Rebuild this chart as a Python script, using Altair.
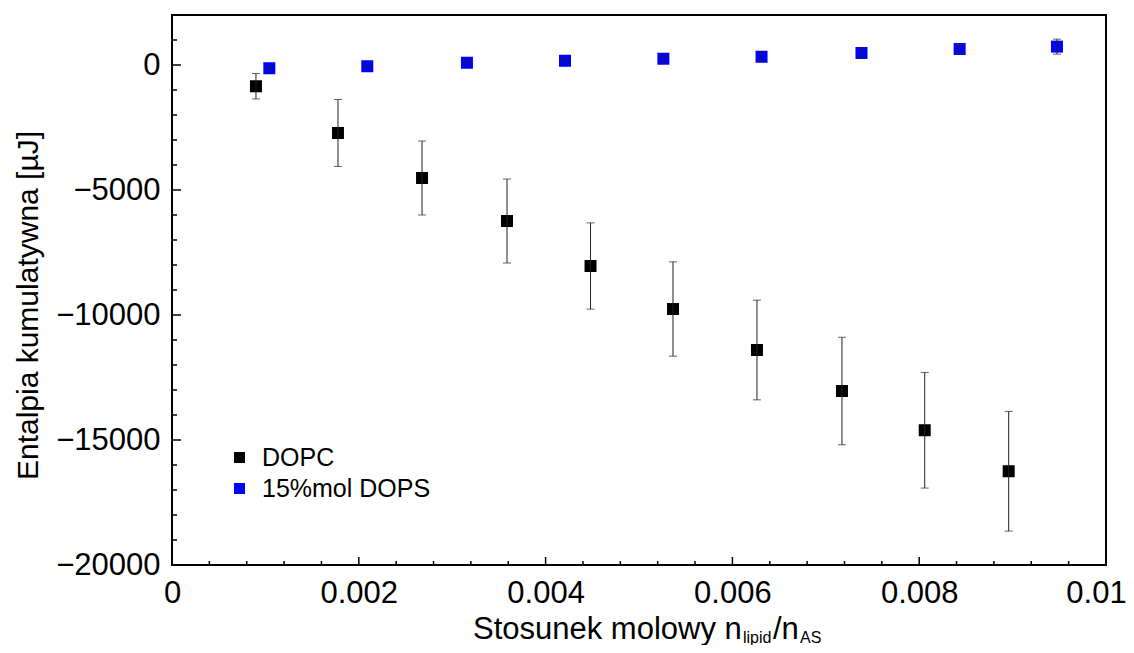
import altair as alt
import pandas as pd

# ---- data ----
series_names = ["DOPC", "15%mol DOPS"]
series_colors = ["#000000", "#0000ff"]

dopc_x = [0.000899, 0.001777, 0.002677, 0.003587, 0.004481, 0.005364, 0.006263, 0.007173, 0.008059, 0.008958]
dopc_y = [-850, -2720, -4520, -6240, -8040, -9760, -11400, -13040, -14610, -16250]
dopc_err = [510, 1340, 1480, 1680, 1725, 1886, 1994, 2150, 2313, 2393]

dops_x = [0.001042, 0.002091, 0.003158, 0.004208, 0.005261, 0.006312, 0.007382, 0.008433, 0.009475]
dops_y = [-130, -50, 90, 170, 250, 330, 480, 640, 735]
dops_err = [80, 20, 50, 55, 95, 150, 195, 180, 300]

x_major = [0, 0.002, 0.004, 0.006, 0.008, 0.01]
x_minor = [0.0004, 0.0008, 0.0012, 0.0016, 0.0024, 0.0028, 0.0032, 0.0036,
           0.0044, 0.0048, 0.0052, 0.0056, 0.0064, 0.0068, 0.0072, 0.0076,
           0.0084, 0.0088, 0.0092, 0.0096]
y_major = [0, -5000, -10000, -15000, -20000]
y_minor = [1000, -1000, -2000, -3000, -4000, -6000, -7000, -8000, -9000,
           -11000, -12000, -13000, -14000, -16000, -17000, -18000, -19000]

x_title_main = "Stosunek molowy n"
x_title_sub1 = "lipid"
x_title_mid = "/n"
x_title_sub2 = "AS"
y_title = "Entalpia kumulatywna [µJ]"

# ---- tables ----
pts = pd.DataFrame({
    "x": dopc_x + dops_x,
    "y": dopc_y + dops_y,
    "err": dopc_err + dops_err,
    "series": [series_names[0]] * len(dopc_x) + [series_names[1]] * len(dops_x),
})
bars = pd.DataFrame({"x": pts["x"], "y": pts["y"] - pts["err"], "y2": pts["y"] + pts["err"]})
caps = pd.concat([
    pd.DataFrame({"x": pts["x"], "y": pts["y"] - pts["err"]}),
    pd.DataFrame({"x": pts["x"], "y": pts["y"] + pts["err"]}),
])

W, H = 934, 550
xs = alt.Scale(domain=[0, 0.01], nice=False, zero=False)
ys = alt.Scale(domain=[-20000, 2000], nice=False, zero=False)

x_axis = alt.Axis(values=x_major, format=".3~f", ticks=False, domain=False, grid=False,
                  labelFontSize=31, labelPadding=13, labelFlush=False, labelOverlap=False,
                  labelBound=False, labelColor="black", title=None,
                  labelOffset=alt.condition("datum.value > 0.0099", alt.value(-10), alt.value(0)))
y_axis = alt.Axis(values=y_major, format="d", ticks=False, domain=False, grid=False,
                  labelFontSize=31, labelPadding=12, labelFlush=False, labelOverlap=False,
                  labelBound=False, labelColor="black", title=y_title, titleFontSize=30,
                  titleFontWeight="normal", titleColor="black", titleX=-144, titleY=290,
                  titleAngle=270, titleAlign="center", titleBaseline="middle")

X = alt.X("x:Q", scale=xs, axis=x_axis)
Y = alt.Y("y:Q", scale=ys, axis=y_axis)

points = alt.Chart(pts).mark_square(size=144, opacity=1).encode(
    x=X, y=Y,
    color=alt.Color("series:N", scale=alt.Scale(domain=series_names, range=series_colors),
                    legend=alt.Legend(orient="none", legendX=55, legendY=430, title=None,
                                      symbolType="square", symbolSize=121, symbolOpacity=1,
                                      symbolStrokeWidth=0, labelFontSize=25, labelColor="black",
                                      labelLimit=0, labelOffset=10, rowPadding=5, padding=0)),
)

err_rules = alt.Chart(bars).mark_rule(color="#222222", strokeWidth=1).encode(x=X, y=Y, y2="y2:Q")
err_caps = alt.Chart(caps).mark_tick(color="#222222", orient="horizontal", size=8, thickness=1).encode(x=X, y=Y)

xt_major = alt.Chart(pd.DataFrame({"x": x_major})).mark_rule(color="black", strokeWidth=1.5).encode(
    x=X, y=alt.value(H), y2=alt.value(H - 8))
xt_minor = alt.Chart(pd.DataFrame({"x": x_minor})).mark_rule(color="black", strokeWidth=1.5).encode(
    x=X, y=alt.value(H), y2=alt.value(H - 4))
yt_major = alt.Chart(pd.DataFrame({"y": y_major})).mark_rule(color="black", strokeWidth=1.5).encode(
    y=Y, x=alt.value(0), x2=alt.value(9))
yt_minor = alt.Chart(pd.DataFrame({"y": y_minor})).mark_rule(color="black", strokeWidth=1.5).encode(
    y=Y, x=alt.value(0), x2=alt.value(5))

one = pd.DataFrame({"a": [0]})
t_main = alt.Chart(one).mark_text(align="left", baseline="alphabetic", fontSize=31, color="black",
                                  text=x_title_main).encode(x=alt.value(301), y=alt.value(624))
t_sub1 = alt.Chart(one).mark_text(align="left", baseline="alphabetic", fontSize=16, color="black",
                                  text=x_title_sub1).encode(x=alt.value(571), y=alt.value(628))
t_mid = alt.Chart(one).mark_text(align="left", baseline="alphabetic", fontSize=31, color="black",
                                 text=x_title_mid).encode(x=alt.value(601), y=alt.value(624))
t_sub2 = alt.Chart(one).mark_text(align="left", baseline="alphabetic", fontSize=16, color="black",
                                  text=x_title_sub2).encode(x=alt.value(628), y=alt.value(628))

chart = alt.layer(
    points, err_rules, err_caps, xt_major, xt_minor, yt_major, yt_minor,
    t_main, t_sub1, t_mid, t_sub2,
).properties(
    width=W, height=H,
    padding={"left": 164, "top": 7, "right": 20, "bottom": 80},
    autosize=alt.AutoSizeParams(type="none"),
).configure(font="Liberation Sans").configure_view(stroke="black", strokeWidth=2)

chart.save("out.html", embed_options={"renderer": "svg", "actions": False})
